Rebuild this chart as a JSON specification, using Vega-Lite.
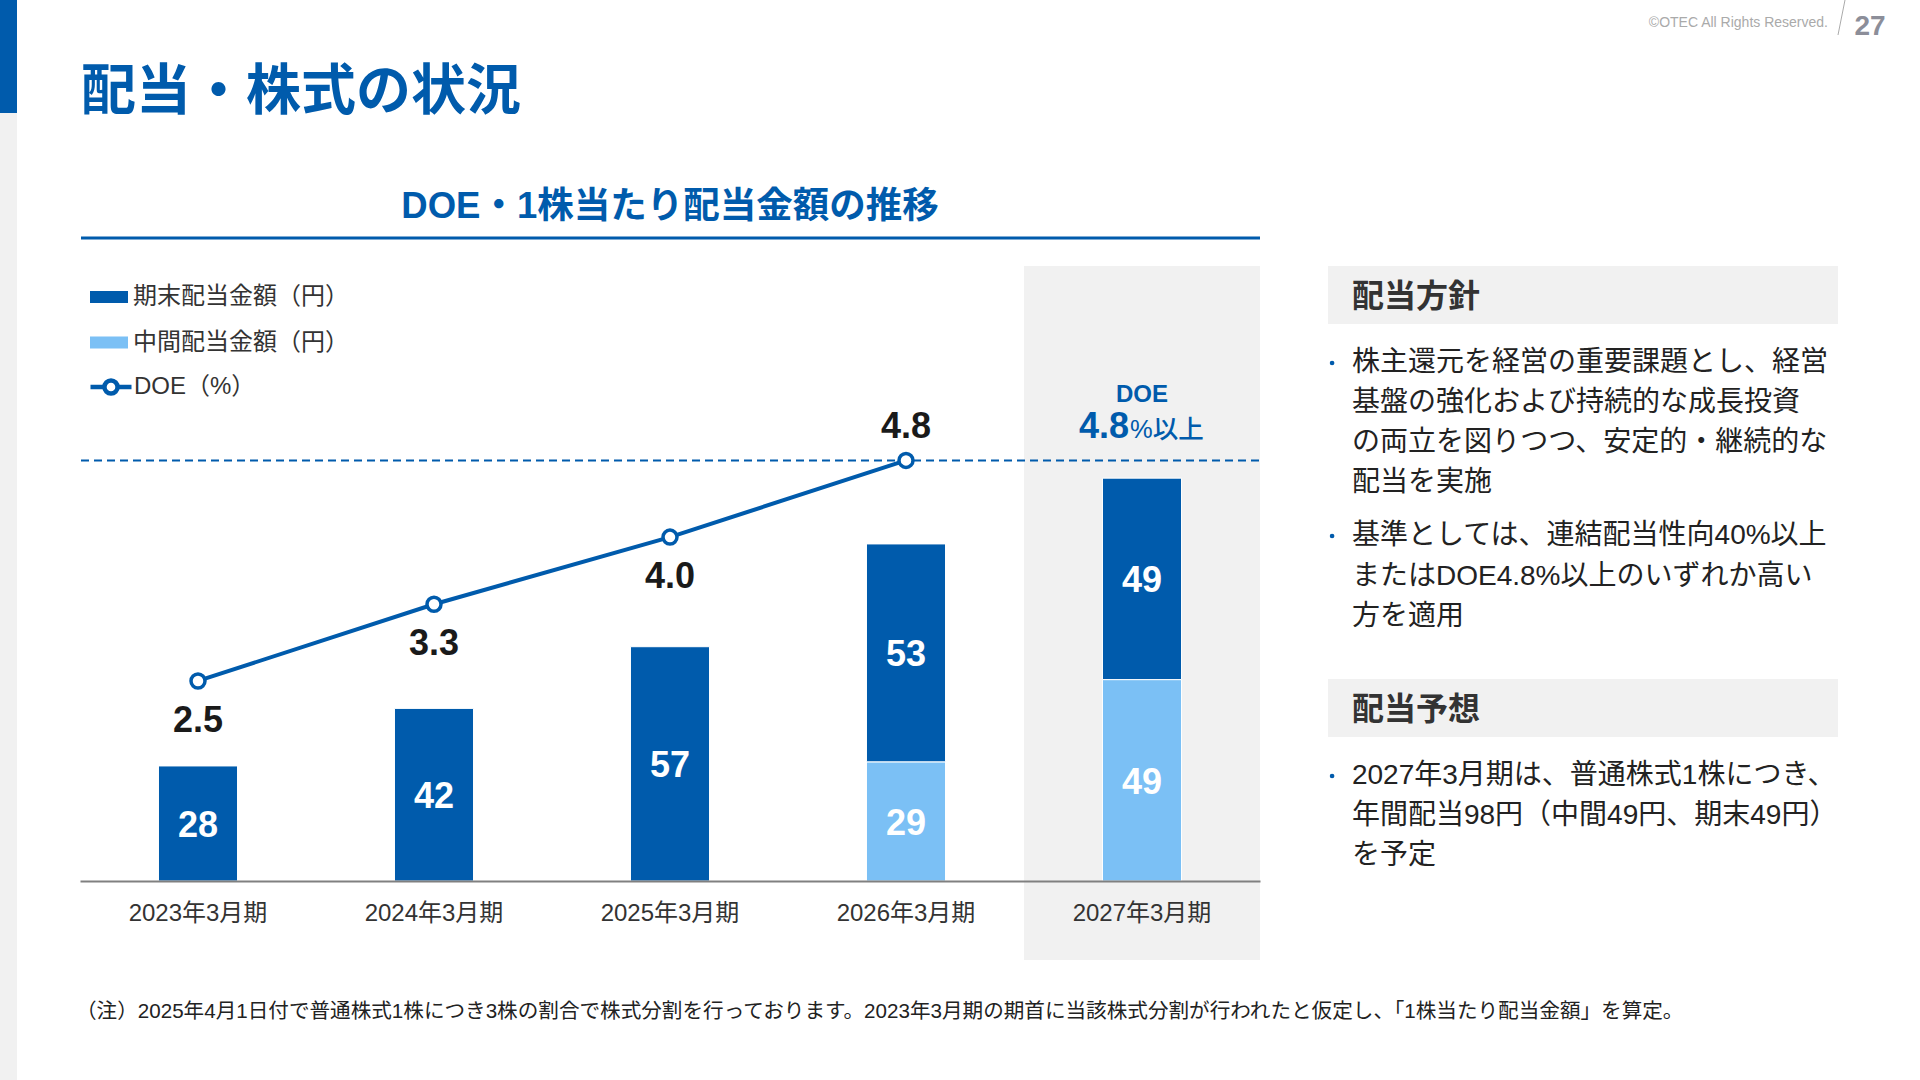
{
"$schema":"https://vega.github.io/schema/vega-lite/v6.json",
"width":1920,"height":1080,"padding":0,"autosize":"none","background":"white",
"config":{"view":{"stroke":null},"font":"Liberation Sans, 'Noto Sans CJK JP'"},
"resolve":{"scale":{"x":"independent","y":"independent","color":"independent"}},
"layer":[
{"data":{"values":[{"part":"rail"}]},"mark":{"type":"rect","color":"#f1f1f1"},
 "encoding":{"x":{"field":"part","type":"nominal","axis":null,"scale":{"range":[0,17],"padding":0}},
 "y":{"field":"part","type":"nominal","axis":null,"scale":{"range":[0,1080],"padding":0}}}},
{"data":{"values":[{"part":"accent"}]},"mark":{"type":"rect","color":"#005bac"},
 "encoding":{"x":{"field":"part","type":"nominal","axis":null,"scale":{"range":[0,17],"padding":0}},
 "y":{"field":"part","type":"nominal","axis":null,"scale":{"range":[0,113],"padding":0}}}},
{"data":{"values":[{"text":"配当・株式の状況"}]},"mark":{"type":"text","align":"left","baseline":"middle","fontSize":55,"fontWeight":"bold","color":"#005bac"},
 "encoding":{"text":{"field":"text"},"x":{"field":"text","type":"nominal","axis":null,"scale":{"type":"point","range":[81,81],"padding":0}},
 "y":{"field":"text","type":"nominal","axis":null,"scale":{"type":"point","range":[92,92],"padding":0}}}},
{"data":{"values":[{"text":"DOE・1株当たり配当金額の推移"}]},"mark":{"type":"text","align":"center","baseline":"middle","fontSize":36.5,"fontWeight":"bold","color":"#005bac"},
 "encoding":{"text":{"field":"text"},"x":{"field":"text","type":"nominal","axis":null,"scale":{"type":"point","range":[670,670],"padding":0}},
 "y":{"field":"text","type":"nominal","axis":null,"scale":{"type":"point","range":[207,207],"padding":0}}}},
{"data":{"values":[{"part":"rule"}]},"mark":{"type":"rect","color":"#005bac"},
 "encoding":{"x":{"field":"part","type":"nominal","axis":null,"scale":{"range":[81,1260],"padding":0}},
 "y":{"field":"part","type":"nominal","axis":null,"scale":{"range":[236.5,239.5],"padding":0}}}},
{"data":{"values":[{"text":"©OTEC All Rights Reserved."}]},"mark":{"type":"text","align":"right","baseline":"middle","fontSize":14,"color":"#aaaaaa"},
 "encoding":{"text":{"field":"text"},"x":{"field":"text","type":"nominal","axis":null,"scale":{"type":"point","range":[1828,1828],"padding":0}},
 "y":{"field":"text","type":"nominal","axis":null,"scale":{"type":"point","range":[23,23],"padding":0}}}},
{"data":{"values":[{"end":"foot"},{"end":"head"}]},"mark":{"type":"line","color":"#aaaaaa","strokeWidth":1},
 "encoding":{"x":{"field":"end","type":"ordinal","axis":null,"scale":{"type":"point","domain":["foot","head"],"range":[1838,1845],"padding":0}},
 "y":{"field":"end","type":"ordinal","axis":null,"scale":{"type":"point","domain":["foot","head"],"range":[35,0],"padding":0}}}},
{"data":{"values":[{"text":"27"}]},"mark":{"type":"text","align":"center","baseline":"middle","fontSize":28,"fontWeight":"bold","color":"#8c8e99"},
 "encoding":{"text":{"field":"text"},"x":{"field":"text","type":"nominal","axis":null,"scale":{"type":"point","range":[1870,1870],"padding":0}},
 "y":{"field":"text","type":"nominal","axis":null,"scale":{"type":"point","range":[27,27],"padding":0}}}},
{"data":{"values":[{"fy":"2027年3月期"}]},"mark":{"type":"rect","color":"#f1f1f1"},
 "encoding":{"x":{"field":"fy","type":"nominal","axis":null,"scale":{"domain":["2023年3月期","2024年3月期","2025年3月期","2026年3月期","2027年3月期"],"range":[80,1260],"padding":0}},
 "y":{"field":"fy","type":"nominal","axis":null,"scale":{"range":[266,960],"padding":0}}}},
{"data":{"values":[{"end":"left","doe":4.8},{"end":"right","doe":4.8}]},"mark":{"type":"line","color":"#005bac","strokeWidth":2,"strokeDash":[8,5]},
 "encoding":{"x":{"field":"end","type":"nominal","axis":null,"scale":{"type":"point","domain":["left","right"],"range":[81,1260],"padding":0}},
 "y":{"field":"doe","type":"quantitative","axis":null,"scale":{"domain":[-0.41,6.827],"range":[960,266],"nice":false,"zero":false}}}},
{"data":{"values":[
 {"fy":"2023年3月期","kind":"期末配当金額（円）","value":28,"stack_rank":2},
 {"fy":"2024年3月期","kind":"期末配当金額（円）","value":42,"stack_rank":2},
 {"fy":"2025年3月期","kind":"期末配当金額（円）","value":57,"stack_rank":2},
 {"fy":"2026年3月期","kind":"中間配当金額（円）","value":29,"stack_rank":1},
 {"fy":"2026年3月期","kind":"期末配当金額（円）","value":53,"stack_rank":2},
 {"fy":"2027年3月期","kind":"中間配当金額（円）","value":49,"stack_rank":1},
 {"fy":"2027年3月期","kind":"期末配当金額（円）","value":49,"stack_rank":2}]},
 "encoding":{
 "x":{"field":"fy","type":"nominal","title":null,"sort":null,"scale":{"domain":["2023年3月期","2024年3月期","2025年3月期","2026年3月期","2027年3月期"],"range":[80,1260],"padding":0},
  "axis":{"orient":"bottom","offset":-199,"zindex":1,"labelAngle":0,"ticks":false,"grid":false,"domainColor":"#808080","domainWidth":2,"labelFontSize":24,"labelColor":"#333333","labelPadding":20}},
 "y":{"field":"value","type":"quantitative","stack":"zero","axis":null,"scale":{"domain":[-19.2,149.6],"range":[960,266],"nice":false,"zero":false}},
 "order":{"field":"stack_rank"}},
 "layer":[
 {"mark":{"type":"bar","width":{"band":0.335},"stroke":"white","strokeWidth":1},
  "encoding":{"fill":{"field":"kind","type":"nominal","scale":{"domain":["期末配当金額（円）","中間配当金額（円）"],"range":["#005bac","#7bc0f5"]},
   "legend":{"orient":"none","legendX":90,"legendY":278,"title":null,"labelFontSize":24,"labelColor":"#333333","labelOffset":5,"labelLimit":400,"rowPadding":14.5,
    "symbolType":"M-1,-0.316H1V0.316H-1Z","symbolSize":1444,"symbolStrokeWidth":0}}}},
 {"mark":{"type":"text","baseline":"middle","dy":2.5,"fontSize":36,"fontWeight":"bold","color":"white"},
  "encoding":{"text":{"field":"value","type":"quantitative"},"detail":{"field":"kind"},
   "y":{"field":"value","type":"quantitative","stack":"zero","bandPosition":0.5,"axis":null}}}
 ]},
{"data":{"values":[
 {"fy":"2023年3月期","doe":2.5,"series":"DOE（%）"},
 {"fy":"2024年3月期","doe":3.3,"series":"DOE（%）"},
 {"fy":"2025年3月期","doe":4.0,"series":"DOE（%）"},
 {"fy":"2026年3月期","doe":4.8,"series":"DOE（%）"}]},
 "encoding":{
 "x":{"field":"fy","type":"nominal","axis":null,"sort":null,"scale":{"type":"band","domain":["2023年3月期","2024年3月期","2025年3月期","2026年3月期","2027年3月期"],"range":[80,1260],"padding":0}},
 "y":{"field":"doe","type":"quantitative","axis":null,"scale":{"domain":[-0.41,6.827],"range":[960,266],"nice":false,"zero":false}}},
 "layer":[
 {"mark":{"type":"line","strokeWidth":4},
  "encoding":{"color":{"field":"series","type":"nominal","scale":{"range":["#005bac"]},
   "legend":{"orient":"none","legendX":88,"legendY":364,"title":null,"labelFontSize":24,"labelColor":"#333333","labelOffset":0,"labelLimit":400,
    "symbolType":"M-1,0L-0.32,0M0.32,0L1,0M-0.32,0A0.32,0.32 0 1,1 0.32,0A0.32,0.32 0 1,1 -0.32,0","symbolSize":1681,"symbolStrokeWidth":4.5,"symbolFillColor":"white"}}}},
 {"mark":{"type":"point","filled":true,"fill":"white","stroke":"#005bac","strokeWidth":3.5,"size":196,"opacity":1}},
 {"transform":[{"filter":"datum.doe < 4.8"}],"mark":{"type":"text","baseline":"middle","dy":40,"fontSize":36,"fontWeight":"bold","color":"#1a1a1a"},
  "encoding":{"text":{"field":"doe","type":"quantitative","format":".1f"}}},
 {"transform":[{"filter":"datum.doe >= 4.8"}],"mark":{"type":"text","baseline":"middle","dy":-33,"fontSize":36,"fontWeight":"bold","color":"#1a1a1a"},
  "encoding":{"text":{"field":"doe","type":"quantitative","format":".1f"}}}
 ]},
{"data":{"values":[
 {"fy":"2027年3月期","row":"head","text":"DOE"},
 {"fy":"2027年3月期","row":"value","text":"4.8"},
 {"fy":"2027年3月期","row":"value","text":"%以上"}]},
 "encoding":{"text":{"field":"text"},
 "x":{"field":"fy","type":"nominal","axis":null,"scale":{"type":"band","domain":["2023年3月期","2024年3月期","2025年3月期","2026年3月期","2027年3月期"],"range":[80,1260],"padding":0}},
 "y":{"field":"row","type":"nominal","axis":null,"scale":{"type":"point","domain":["head","value"],"range":[402,438],"padding":0}}},
 "layer":[
 {"transform":[{"filter":"datum.text == 'DOE'"}],"mark":{"type":"text","align":"center","baseline":"alphabetic","fontSize":24,"fontWeight":"bold","color":"#005bac"}},
 {"transform":[{"filter":"datum.text == '4.8'"}],"mark":{"type":"text","align":"right","baseline":"alphabetic","dx":-13,"fontSize":36,"fontWeight":"bold","color":"#005bac"}},
 {"transform":[{"filter":"datum.text == '%以上'"}],"mark":{"type":"text","align":"left","baseline":"alphabetic","dx":-12,"fontSize":25.5,"fontWeight":500,"color":"#005bac"}}
 ]},
{"data":{"values":[{"section":"配当方針"},{"section":"配当予想"}]},
 "encoding":{"x":{"datum":"panel","type":"nominal","axis":null,"scale":{"type":"band","range":[1328,1838],"padding":0}},
 "y":{"field":"section","type":"nominal","axis":null,"scale":{"domain":["配当方針","配当予想"],"range":[266,737],"paddingInner":0.8596,"paddingOuter":0}}},
 "layer":[
 {"mark":{"type":"rect","color":"#f1f1f1"}},
 {"mark":{"type":"text","align":"left","baseline":"middle","dy":2,"fontSize":32,"fontWeight":"bold","color":"#333333"},
  "encoding":{"text":{"field":"section"},"x":{"datum":"panel","type":"nominal","bandPosition":0.047,"axis":null}}}
 ]},
{"data":{"values":[
 {"line":1,"text":"株主還元を経営の重要課題とし、経営"},
 {"line":2,"text":"基盤の強化および持続的な成長投資"},
 {"line":3,"text":"の両立を図りつつ、安定的・継続的な"},
 {"line":4,"text":"配当を実施"}]},
 "encoding":{"y":{"field":"line","type":"ordinal","axis":null,"scale":{"type":"point","domain":[1,2,3,4],"range":[363,483],"padding":0}},
 "x":{"datum":"panel","type":"nominal","axis":null,"scale":{"type":"band","range":[1328,1838],"padding":0}}},
 "layer":[
 {"transform":[{"filter":"datum.line == 1"}],"mark":{"type":"point","filled":true,"color":"#005bac","size":22,"opacity":1},"encoding":{"x":{"datum":"panel","type":"nominal","bandPosition":0.008,"axis":null}}},
 {"mark":{"type":"text","align":"left","baseline":"middle","fontSize":28,"color":"#222222"},"encoding":{"text":{"field":"text"},"x":{"datum":"panel","type":"nominal","bandPosition":0.047,"axis":null}}}
 ]},
{"data":{"values":[
 {"line":1,"text":"基準としては、連結配当性向40%以上"},
 {"line":2,"text":"またはDOE4.8%以上のいずれか高い"},
 {"line":3,"text":"方を適用"}]},
 "encoding":{"y":{"field":"line","type":"ordinal","axis":null,"scale":{"type":"point","domain":[1,2,3],"range":[536,617],"padding":0}},
 "x":{"datum":"panel","type":"nominal","axis":null,"scale":{"type":"band","range":[1328,1838],"padding":0}}},
 "layer":[
 {"transform":[{"filter":"datum.line == 1"}],"mark":{"type":"point","filled":true,"color":"#005bac","size":22,"opacity":1},"encoding":{"x":{"datum":"panel","type":"nominal","bandPosition":0.008,"axis":null}}},
 {"mark":{"type":"text","align":"left","baseline":"middle","fontSize":28,"color":"#222222"},"encoding":{"text":{"field":"text"},"x":{"datum":"panel","type":"nominal","bandPosition":0.047,"axis":null}}}
 ]},
{"data":{"values":[
 {"line":1,"text":"2027年3月期は、普通株式1株につき、"},
 {"line":2,"text":"年間配当98円（中間49円、期末49円）"},
 {"line":3,"text":"を予定"}]},
 "encoding":{"y":{"field":"line","type":"ordinal","axis":null,"scale":{"type":"point","domain":[1,2,3],"range":[776,856],"padding":0}},
 "x":{"datum":"panel","type":"nominal","axis":null,"scale":{"type":"band","range":[1328,1838],"padding":0}}},
 "layer":[
 {"transform":[{"filter":"datum.line == 1"}],"mark":{"type":"point","filled":true,"color":"#005bac","size":22,"opacity":1},"encoding":{"x":{"datum":"panel","type":"nominal","bandPosition":0.008,"axis":null}}},
 {"mark":{"type":"text","align":"left","baseline":"middle","fontSize":28,"color":"#222222"},"encoding":{"text":{"field":"text"},"x":{"datum":"panel","type":"nominal","bandPosition":0.047,"axis":null}}}
 ]},
{"data":{"values":[{"text":"（注）2025年4月1日付で普通株式1株につき3株の割合で株式分割を行っております。2023年3月期の期首に当該株式分割が行われたと仮定し、「1株当たり配当金額」を算定。"}]},
 "mark":{"type":"text","align":"left","baseline":"middle","fontSize":20.6,"color":"#222222"},
 "encoding":{"text":{"field":"text"},"x":{"field":"text","type":"nominal","axis":null,"scale":{"type":"point","range":[76,76],"padding":0}},
 "y":{"field":"text","type":"nominal","axis":null,"scale":{"type":"point","range":[1012,1012],"padding":0}}}}
]
}
